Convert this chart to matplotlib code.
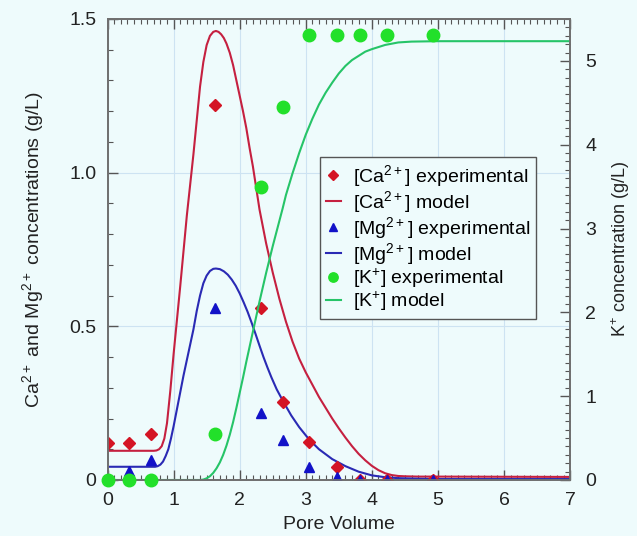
import matplotlib
matplotlib.use("Agg")
import matplotlib.pyplot as plt
from matplotlib.ticker import MultipleLocator

# ---- experimental data ----
pore_volume = [0, 0.33, 0.66, 1.63, 2.32, 2.65, 3.05, 3.48, 3.82, 4.23, 4.92]
ca_exp = [0.119, 0.119, 0.149, 1.221, 0.560, 0.255, 0.125, 0.041, 0.0, 0.0, 0.0]
mg_exp = [0.0, 0.030, 0.065, 0.559, 0.217, 0.130, 0.043, 0.011, 0.0, 0.0, 0.0]
k_exp = [0.0, 0.0, 0.0, 0.545, 3.50, 4.45, 5.31, 5.31, 5.31, 5.31, 5.31]

# ---- model curves ----
ca_model_x = [0, 0.70, 0.74, 0.78, 0.82, 0.86, 0.90, 0.95, 1.00, 1.05, 1.10, 1.15,
              1.20, 1.25, 1.30, 1.35, 1.40, 1.45, 1.50, 1.55, 1.60, 1.64, 1.68, 1.72,
              1.76, 1.80, 1.85, 1.90, 1.95, 2.00, 2.05, 2.10, 2.15, 2.20, 2.30, 2.40,
              2.50, 2.60, 2.70, 2.80, 2.90, 3.00, 3.10, 3.20, 3.30, 3.40, 3.50, 3.60,
              3.70, 3.80, 3.90, 4.00, 4.10, 4.20, 4.30, 4.40, 4.50, 4.70, 5.00, 7.00]
ca_model_y = [0.095, 0.095, 0.096, 0.100, 0.110, 0.135, 0.185, 0.29, 0.41, 0.52,
              0.63, 0.745, 0.86, 0.96, 1.06, 1.17, 1.28, 1.36, 1.415, 1.445, 1.458,
              1.461, 1.458, 1.450, 1.438, 1.420, 1.39, 1.35, 1.30, 1.25, 1.20, 1.145,
              1.08, 1.02, 0.88, 0.77, 0.675, 0.59, 0.515, 0.45, 0.395, 0.35, 0.31,
              0.27, 0.235, 0.20, 0.168, 0.138, 0.11, 0.085, 0.064, 0.046, 0.032,
              0.022, 0.016, 0.013, 0.012, 0.011, 0.011, 0.010]

mg_model_x = [0, 0.72, 0.76, 0.80, 0.84, 0.88, 0.92, 0.96, 1.00, 1.05, 1.10, 1.15,
              1.20, 1.25, 1.30, 1.35, 1.40, 1.45, 1.50, 1.55, 1.60, 1.64, 1.70, 1.76,
              1.82, 1.88, 1.94, 2.00, 2.06, 2.12, 2.18, 2.24, 2.30, 2.36, 2.42, 2.48,
              2.56, 2.66, 2.78, 2.90, 3.05, 3.20, 3.40, 3.60, 3.80, 4.00, 4.20, 4.40,
              4.70, 5.00, 7.00]
mg_model_y = [0.043, 0.043, 0.045, 0.050, 0.060, 0.078, 0.10, 0.135, 0.175, 0.23,
              0.285, 0.34, 0.39, 0.44, 0.49, 0.55, 0.60, 0.64, 0.665, 0.68, 0.687,
              0.688, 0.686, 0.679, 0.668, 0.652, 0.632, 0.607, 0.578, 0.547, 0.512,
              0.475, 0.437, 0.40, 0.366, 0.334, 0.295, 0.255, 0.21, 0.172, 0.132,
              0.10, 0.068, 0.045, 0.027, 0.015, 0.009, 0.006, 0.004, 0.003, 0.003]

k_model_x = [0, 1.40, 1.45, 1.50, 1.55, 1.60, 1.65, 1.70, 1.75, 1.80, 1.85, 1.90,
             1.95, 2.00, 2.05, 2.10, 2.15, 2.20, 2.25, 2.30, 2.35, 2.40, 2.45, 2.50,
             2.55, 2.60, 2.65, 2.70, 2.80, 2.90, 3.00, 3.10, 3.20, 3.30, 3.40, 3.50,
             3.60, 3.70, 3.80, 3.90, 4.00, 4.20, 4.40, 4.60, 5.00, 7.00]
k_model_y = [0.0, 0.0, 0.005, 0.02, 0.045, 0.085, 0.14, 0.21, 0.30, 0.41, 0.54, 0.69,
             0.86, 1.04, 1.22, 1.41, 1.59, 1.77, 1.95, 2.13, 2.30, 2.47, 2.63, 2.79,
             2.94, 3.09, 3.24, 3.40, 3.66, 3.90, 4.12, 4.31, 4.48, 4.62, 4.74, 4.85,
             4.94, 5.01, 5.06, 5.11, 5.14, 5.19, 5.22, 5.23, 5.235, 5.235]

x_ticks = [0, 1, 2, 3, 4, 5, 6, 7]
left_ticks = [0, 0.5, 1.0, 1.5]
left_tick_labels = ["0", "0.5", "1.0", "1.5"]
right_ticks = [0, 1, 2, 3, 4, 5]

BG = "#eefbfc"
plt.rcParams["font.family"] = ["Liberation Sans", "DejaVu Sans"]
plt.rcParams["mathtext.default"] = "regular"

fig = plt.figure(figsize=(6.37, 5.36), dpi=100, facecolor=BG)
ax = fig.add_axes([0.1688, 0.1045, 0.7262, 0.8601], facecolor=BG)
ax2 = ax.twinx()

ca_c, ca_l = "#d41424", "#c52040"
mg_c, mg_l = "#1212c8", "#2a2ab4"
k_c, k_l = "#22e02a", "#26c468"

ax.plot(pore_volume, ca_exp, linestyle="none", marker="D", ms=6.5, color=ca_c,
        label="[Ca$^{2+}$] experimental", zorder=3)
ax.plot(ca_model_x, ca_model_y, color=ca_l, lw=1.5, label="[Ca$^{2+}$] model", zorder=2)
ax.plot(pore_volume, mg_exp, linestyle="none", marker="^", ms=7.5, color=mg_c,
        label="[Mg$^{2+}$] experimental", zorder=3)
ax.plot(mg_model_x, mg_model_y, color=mg_l, lw=1.5, label="[Mg$^{2+}$] model", zorder=2)
ax2.plot(pore_volume, k_exp, linestyle="none", marker="o", ms=9, color=k_c,
         label="[K$^{+}$] experimental", zorder=3, clip_on=False)
ax2.plot(k_model_x, k_model_y, color=k_l, lw=1.5, label="[K$^{+}$] model", zorder=2)

ax.set_xlim(0, 7)
ax.set_ylim(0, 1.5)
ax2.set_ylim(0, 5.5)

ax.set_xticks(x_ticks)
ax.set_yticks(left_ticks)
ax.set_yticklabels(left_tick_labels)
ax2.set_yticks(right_ticks)
ax.xaxis.set_minor_locator(MultipleLocator(0.1))
ax.yaxis.set_minor_locator(MultipleLocator(0.1))
ax2.yaxis.set_minor_locator(MultipleLocator(0.1))

ax.grid(True, which="major", color="#cde3f2", lw=0.8)
ax.set_axisbelow(True)

for a in (ax, ax2):
    for s in a.spines.values():
        s.set_color("#707070")
        s.set_linewidth(1.3)

ax.tick_params(which="both", direction="in", top=True, right=False, colors="#555555",
               labelcolor="#222222", labelsize=14)
ax.tick_params(which="major", length=7, width=1.0)
ax.tick_params(axis="y", which="major", pad=8)
ax.tick_params(axis="x", which="major", pad=9)
ax.tick_params(which="minor", length=3.5, width=0.8)
ax2.tick_params(which="both", direction="in", colors="#555555", labelcolor="#222222",
                labelsize=14)
ax2.tick_params(which="major", length=7, width=1.0, pad=11)
ax2.tick_params(which="minor", length=3.5, width=0.8)

ax.set_xlabel("Pore Volume", fontsize=14, color="#222222", labelpad=5)
ax.set_ylabel("Ca$^{2+}$ and Mg$^{2+}$ concentrations (g/L)", fontsize=14,
              color="#222222", labelpad=17)
ax2.set_ylabel("K$^{+}$ concentration (g/L)", fontsize=13, color="#222222", labelpad=9)

h1, l1 = ax.get_legend_handles_labels()
h2, l2 = ax2.get_legend_handles_labels()
leg = ax2.legend(h1 + h2, l1 + l2, loc="upper left", bbox_to_anchor=(0.459, 0.70),
                 fontsize=14, frameon=True, fancybox=False, handlelength=0.8,
                 handletextpad=0.6, labelspacing=0.0, borderpad=0.3,
                 markerscale=0.75, borderaxespad=0)
leg.get_frame().set_edgecolor("#555555")
leg.get_frame().set_facecolor(BG)
leg.get_frame().set_alpha(1)
leg.get_frame().set_linewidth(1.0)

fig.savefig("out.png", dpi=100, facecolor=BG)
